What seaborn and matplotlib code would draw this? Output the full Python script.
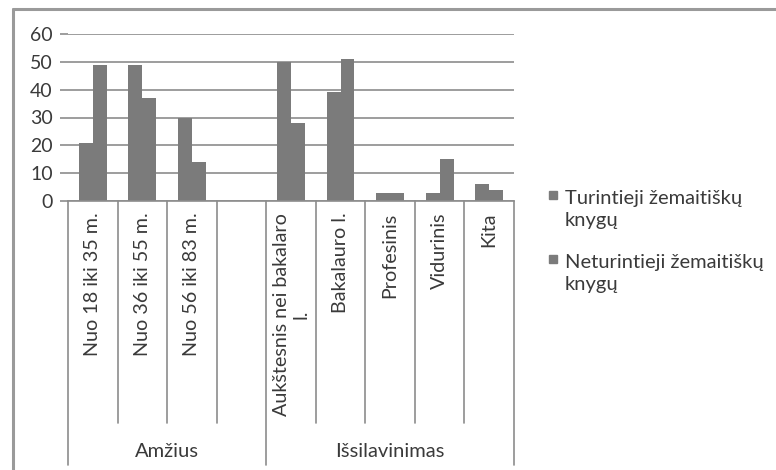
import pandas as pd
import seaborn as sns
import matplotlib.pyplot as plt
from matplotlib.lines import Line2D
from matplotlib.patches import Rectangle

# data
categories = ['Nuo 18 iki 35 m.', 'Nuo 36 iki 55 m.', 'Nuo 56 iki 83 m.', ' ',
              'Aukštesnis nei bakalaro\nl.', 'Bakalauro l.', 'Profesinis', 'Vidurinis', 'Kita']
turintieji = [21, 49, 30, None, 50, 39, 3, 3, 6]
neturintieji = [49, 37, 14, None, 28, 51, 3, 15, 4]
series = ['Turintieji žemaitiškų\nknygų', 'Neturintieji žemaitiškų\nknygų']
groups = [('Amžius', -0.5, 3.5), ('Išsilavinimas', 3.5, 8.5)]
yticks = [0, 10, 20, 30, 40, 50, 60]

rows = []
for c, a, b in zip(categories, turintieji, neturintieji):
    if a is None:
        continue
    rows.append({'cat': c, 'series': series[0], 'val': a})
    rows.append({'cat': c, 'series': series[1], 'val': b})
df = pd.DataFrame(rows)

sns.set_style('white')
plt.rcParams['font.family'] = ['Lato', 'DejaVu Sans']
txt = '#3a3a3a'
grid = '#8c8c8c'
bar = '#7b7b7b'

W, H = 776, 470
fig = plt.figure(figsize=(W / 100, H / 100), dpi=100)
x0, x1, y0, y1 = 68, 514, 34, 201
ax = fig.add_axes([x0 / W, 1 - y1 / H, (x1 - x0) / W, (y1 - y0) / H])

sns.barplot(data=df, x='cat', y='val', hue='series', order=categories,
            hue_order=series, palette=[bar, bar], width=0.56, saturation=1,
            linewidth=0, edgecolor='none', gap=0, ax=ax, legend=False)

ax.set_ylim(0, 60)
ax.set_xlim(-0.5, len(categories) - 0.5)
ax.set_yticks(yticks)
ax.yaxis.grid(True, color=grid, linewidth=1.2)
ax.set_axisbelow(True)
for s in ['top', 'right', 'left']:
    ax.spines[s].set_visible(False)
ax.spines['bottom'].set_color(grid)
ax.spines['bottom'].set_linewidth(1.2)
ax.tick_params(axis='y', length=6, width=1.2, color=grid, pad=5,
               labelsize=14, labelcolor=txt, left=True)
ax.set_xticks([])
ax.set_xlabel('')
ax.set_ylabel('')

# category labels and separators under the axis
tr = ax.get_xaxis_transform()
for i, c in enumerate(categories):
    ax.text(i, -0.07, c.strip(), rotation=90, ha='center', va='top',
            multialignment='center', fontsize=14.2, color=txt, transform=tr)
for i in range(len(categories) + 1):
    edge = i - 0.5
    bottom = -1.58 if i in (0, 4, len(categories)) else -1.33
    ax.plot([edge, edge], [0, bottom], color=grid, lw=1.2,
            transform=tr, clip_on=False)
for name, a, b in groups:
    ax.text((a + b) / 2, -1.50, name, ha='center', va='center', fontsize=14.5,
            color=txt, transform=tr)

# legend: square next to the first line of each wrapped label
for k, (lab, top) in enumerate(zip(series, [190, 254])):
    fig.add_artist(Rectangle((549 / W, 1 - (top + 9) / H), 8 / W, 8 / H,
                             color=bar, transform=fig.transFigure))
    fig.text(565 / W, 1 - top / H, lab, ha='left', va='top', fontsize=14.5,
             color=txt, linespacing=1.35)

# outer frame (top and left edges visible)
fig.add_artist(Line2D([13 / W, 1], [1 - 9 / H, 1 - 9 / H], color='#9a9a9a', lw=2.2))
fig.add_artist(Line2D([13 / W, 13 / W], [0, 1 - 9 / H], color='#9a9a9a', lw=2.2))

fig.savefig('out.png', dpi=100, facecolor='white')
